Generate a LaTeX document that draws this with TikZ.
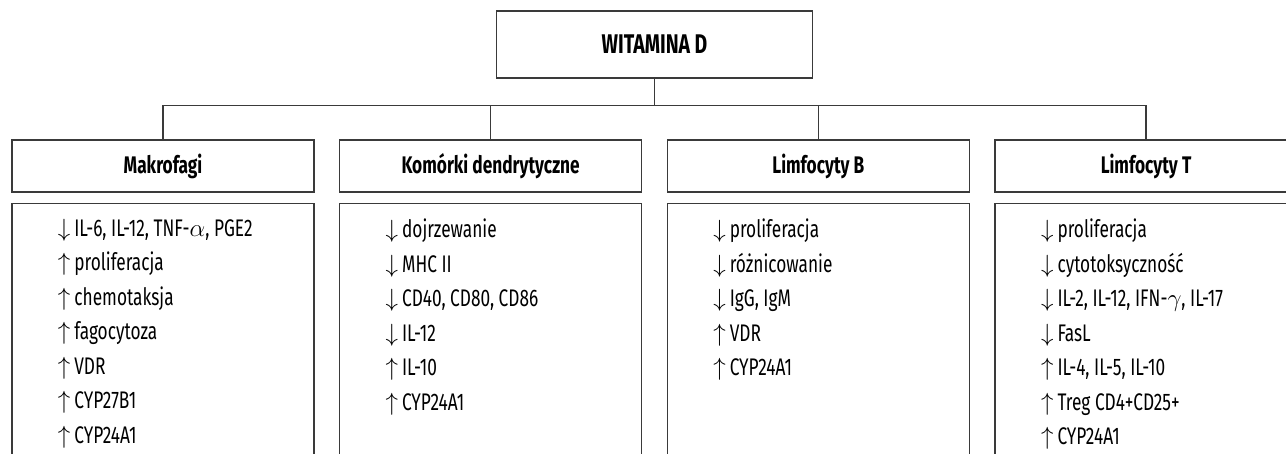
\documentclass[tikz,border=0pt]{standalone}
\usepackage{fontspec}
\setmainfont{Fira Sans}[FakeStretch=0.72]
\usetikzlibrary{trees,positioning}
\definecolor{linegray}{HTML}{3A3A3A}
\newcommand{\arrdn}{$\downarrow$\,}
\newcommand{\arrup}{$\uparrow$\,}

\begin{document}
\begin{tikzpicture}[x=1pt, y=1pt, line width=1.2pt,
    level distance=121.5pt, sibling distance=327.7pt,
    edge from parent fork down,
    edge from parent/.style={draw=linegray},
    rootbox/.style={draw=linegray, minimum width=316pt, minimum height=67pt,
      font=\fontsize{27}{31}\selectfont\bfseries},
    headbox/.style={draw=linegray, minimum width=302pt, minimum height=52pt,
      font=\fontsize{24}{28}\selectfont\bfseries},
    listbox/.style={draw=linegray, minimum width=302pt, minimum height=300pt},
    listtext/.style={anchor=north west, inner sep=0pt, align=left,
      font=\fontsize{24}{34.5}\selectfont},
    ]
  \clip (0,0) rectangle (1286,-454);
  % vitamin D and the four cell types
  \node[rootbox] (vitD) at (654.5,-44.5) {WITAMINA D}
    child { node[headbox] (mak) {Makrofagi} }
    child { node[headbox] (dend) {Komórki dendrytyczne} }
    child { node[headbox] (limB) {Limfocyty B} }
    child { node[headbox] (limT) {Limfocyty T} };
  % effect boxes
  \node[listbox, below=10pt of mak] (makList) {};
  \node[listbox, below=10pt of dend] (dendList) {};
  \node[listbox, below=10pt of limB] (limBList) {};
  \node[listbox, below=10pt of limT] (limTList) {};
  \node[listtext] (makText) at ([shift={(46,-16)}]makList.north west)
    {\arrdn IL-6, IL-12, TNF-$\alpha$, PGE2\\ \arrup proliferacja\\ \arrup chemotaksja\\
     \arrup fagocytoza\\ \arrup VDR\\ \arrup CYP27B1\\ \arrup CYP24A1};
  \node[listtext] (dendText) at ([shift={(46,-16)}]dendList.north west)
    {\arrdn dojrzewanie\\ \arrdn MHC II\\ \arrdn CD40, CD80, CD86\\
     \arrdn IL-12\\ \arrup IL-10\\ \arrup CYP24A1};
  \node[listtext] (limBText) at ([shift={(46,-16)}]limBList.north west)
    {\arrdn proliferacja\\ \arrdn różnicowanie\\ \arrdn IgG, IgM\\
     \arrup VDR\\ \arrup CYP24A1};
  \node[listtext] (limTText) at ([shift={(46,-16)}]limTList.north west)
    {\arrdn proliferacja\\ \arrdn cytotoksyczność\\ \arrdn IL-2, IL-12, IFN-$\gamma$, IL-17\\
     \arrdn FasL\\ \arrup IL-4, IL-5, IL-10\\ \arrup Treg CD4+CD25+\\ \arrup CYP24A1};
\end{tikzpicture}
\end{document}
